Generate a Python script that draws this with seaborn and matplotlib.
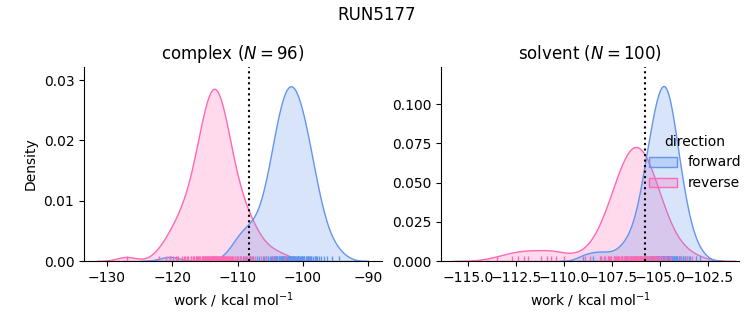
import matplotlib
matplotlib.use("Agg")
import matplotlib.pyplot as plt
import pandas as pd
import seaborn as sns

# Work values (kcal/mol) per phase and direction
complex_forward = [
    -120.4,
    -110.8, -110.1, -109.6, -109.2, -108.7, -108.3,
    -108.1, -106.8, -106.1, -105.6, -105.3, -104.8, -104.6, -104.3, -104.1, -103.9,
    -103.6, -103.4, -103.2, -103.0, -102.8, -102.6, -102.5, -102.2, -102.0, -101.9,
    -101.7, -101.6, -101.4, -101.2, -101.0, -100.8, -100.6, -100.4, -100.2, -100.0,
    -99.9, -99.5, -99.3, -99.1, -98.8, -98.5, -98.0, -97.5, -96.8, -95.5,
    -107.7, -107.0, -105.9, -105.7, -105.0, -104.9, -104.5, -104.2, -104.0, -103.7,
    -103.5, -103.3, -103.1, -102.9, -102.7, -102.7, -102.3, -102.1, -102.1, -101.8,
    -101.8, -101.5, -101.3, -101.3, -100.9, -100.7, -100.7, -100.3, -100.1, -100.1,
    -99.8, -99.4, -99.2, -98.9, -98.7, -98.2, -97.8, -97.3, -96.4, -94.5,
    -101.5, -102.7, -100.1, -103.2, -99.2, -104.4, -98.2, -100.9, -103.0,
]
complex_reverse = [
    -127.0,
    -122.0, -121.0, -120.4, -119.9, -119.2,
    -108.8, -108.0, -107.3, -106.5, -105.6, -104.6, -102.8,
    -119.4, -118.2, -117.6, -117.2, -116.7, -116.4, -116.2, -115.9, -115.7, -115.4,
    -115.2, -115.0, -114.9, -114.7, -114.5, -114.4, -114.1, -114.0, -113.8, -113.7,
    -113.5, -113.4, -113.2, -113.1, -112.8, -112.7, -112.5, -112.3, -112.2, -112.0,
    -111.8, -111.6, -111.3, -111.1, -110.8, -110.4, -110.0, -109.6, -109.0, -107.8,
    -119.1, -118.5, -117.7, -117.1, -116.8, -116.3, -116.1, -116.0, -115.5, -115.3,
    -115.3, -115.0, -114.8, -114.6, -114.6, -114.3, -114.1, -113.9, -113.8, -113.6,
    -113.6, -113.3, -113.3, -113.0, -112.8, -112.6, -112.4, -112.4, -112.1, -111.9,
    -111.7, -111.7, -111.4, -111.0, -110.7, -110.4, -110.1, -109.5, -108.6, -108.2,
    -113.9, -113.2, -118.0,
]
solvent_forward = [
    -109.00, -108.50, -108.10, -107.70, -107.20,
    -106.56, -106.21, -106.02, -105.89, -105.78, -105.69, -105.60, -105.54, -105.47, -105.40,
    -105.35, -105.29, -105.23, -105.18, -105.13, -105.07, -105.03, -104.98, -104.93, -104.88,
    -104.84, -104.79, -104.74, -104.69, -104.65, -104.59, -104.54, -104.49, -104.43, -104.37,
    -104.32, -104.25, -104.18, -104.12, -104.03, -103.94, -103.83, -103.70, -103.51, -103.16,
    -106.83, -106.25, -105.98, -105.92, -105.75, -105.72, -105.57, -105.51, -105.50, -105.37,
    -105.38, -105.26, -105.21, -105.20, -105.10, -105.09, -105.00, -104.96, -104.91, -104.86,
    -104.86, -104.81, -104.72, -104.71, -104.62, -104.61, -104.52, -104.51, -104.41, -104.39,
    -104.30, -104.27, -104.16, -104.14, -104.00, -103.97, -103.80, -103.73, -103.46, -102.92,
    -104.90, -104.70, -105.75, -104.55, -105.30, -104.45, -105.15, -104.80, -105.60, -104.20,
    -106.05, -104.60, -106.40, -106.80, -103.60,
]
solvent_reverse = [
    -113.50, -112.70, -112.40, -112.10, -111.90, -111.20, -110.90, -110.70, -110.40, -110.00,
    -108.63, -108.15, -107.89, -107.71, -107.56, -107.43, -107.32, -107.23, -107.13, -107.04,
    -106.97, -106.88, -106.81, -106.74, -106.66, -106.59, -106.53, -106.47, -106.39, -106.33,
    -106.27, -106.21, -106.13, -106.06, -105.99, -105.92, -105.84, -105.77, -105.69, -105.60,
    -105.53, -105.44, -105.35, -105.26, -105.17, -105.07, -104.91, -104.75, -104.45, -103.97,
    -108.91, -108.09, -107.93, -107.67, -107.60, -107.39, -107.35, -107.19, -107.16, -107.01,
    -107.00, -106.85, -106.84, -106.71, -106.70, -106.56, -106.56, -106.44, -106.42, -106.30,
    -106.30, -106.18, -106.16, -106.04, -106.04, -105.90, -105.89, -105.76, -105.75, -105.60,
    -105.59, -105.44, -105.41, -105.25, -105.20, -105.01, -104.92, -104.68, -104.48, -103.60,
    -106.20, -106.50, -105.85, -106.70, -106.00, -105.55, -107.00, -106.35, -105.35, -103.35,
]

phases = ["complex", "solvent"]
directions = ["forward", "reverse"]
palette = {"forward": "cornflowerblue", "reverse": "hotpink"}

# Free energy estimates marked by the dotted lines
complex_estimate = -108.24
solvent_estimate = -105.78

samples = {
    ("complex", "forward"): complex_forward,
    ("complex", "reverse"): complex_reverse,
    ("solvent", "forward"): solvent_forward,
    ("solvent", "reverse"): solvent_reverse,
}
rows = []
for (phase, direction), values in samples.items():
    for w in values:
        rows.append({"phase": phase, "direction": direction, "work": w})
df = pd.DataFrame(rows)

g = sns.displot(
    df, x="work", hue="direction", col="phase", kind="kde",
    fill=True, rug=True, palette=palette,
    hue_order=directions, col_order=phases,
    facet_kws=dict(sharex=False, sharey=False),
    height=3, aspect=1.1,
)

fig = g.figure
fig.set_size_inches(7.53, 3.25)

ax_c, ax_s = g.axes.flat
ax_c.set_position([0.1116, 0.1969, 0.3958, 0.5969])
ax_s.set_position([0.5857, 0.1969, 0.3958, 0.5969])

n_complex = len(complex_forward)
n_solvent = len(solvent_forward)
ax_c.set_title(f"complex ($N = {n_complex}$)", fontsize=12)
ax_s.set_title(f"solvent ($N = {n_solvent}$)", fontsize=12)

ax_c.axvline(complex_estimate, color="black", ls=":", lw=1.5)
ax_s.axvline(solvent_estimate, color="black", ls=":", lw=1.5)

ax_c.set_xlim(-133.5, -87.9)
ax_s.set_xlim(-116.4, -100.9)
ax_c.set_ylim(0, 0.03216)
ax_s.set_ylim(0, 0.1236)

for ax in (ax_c, ax_s):
    ax.set_xlabel("work / kcal mol$^{-1}$")
ax_c.set_ylabel("Density")
ax_s.set_ylabel("")

fig.suptitle("RUN5177", fontsize=12)
sns.move_legend(g, "center left", bbox_to_anchor=(0.845, 0.5), frameon=False)

fig.savefig("out.png", dpi=100)
